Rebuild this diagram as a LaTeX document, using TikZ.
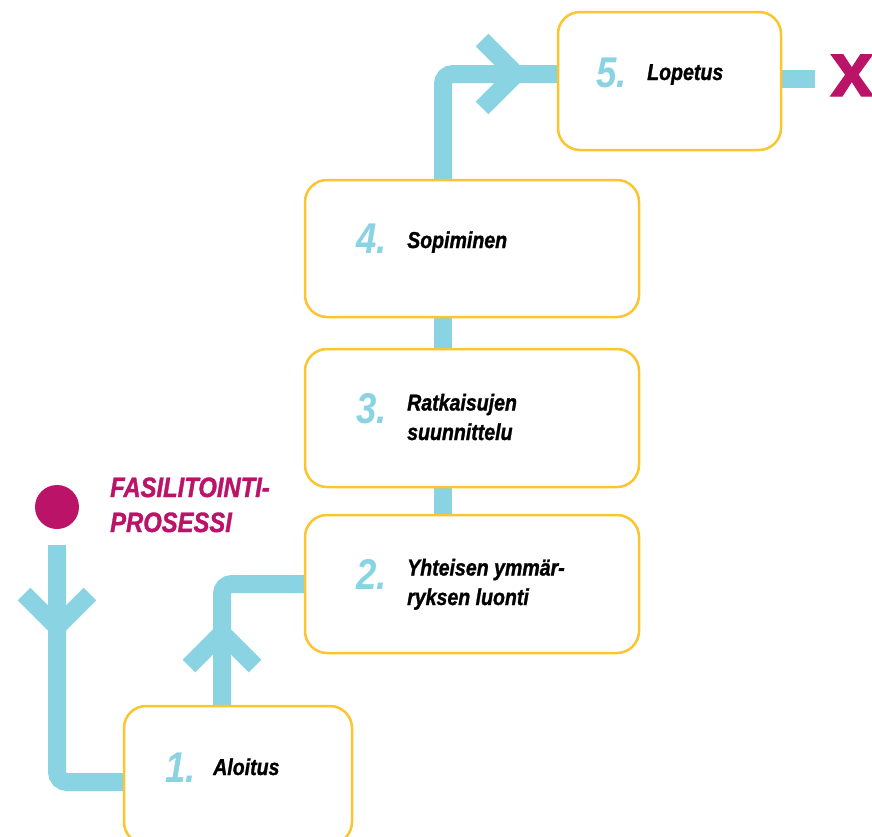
\documentclass[tikz,border=0pt]{standalone}
\usepackage{fontspec}
\setmainfont{Liberation Sans}
\newfontfamily\condfont[FakeStretch=0.85]{Liberation Sans}
\newfontfamily\heavyfont[FakeStretch=0.85,FakeBold=1.2]{Liberation Sans}
\newfontfamily\markfont[FakeBold=1.5]{Liberation Sans}
\usetikzlibrary{backgrounds}
\definecolor{flowcyan}{HTML}{89D3E2}
\definecolor{boxyellow}{HTML}{FBC52F}
\definecolor{magentax}{HTML}{BA1368}
\begin{document}
\begin{tikzpicture}[x=1pt,y=-1pt,
  stepbox/.style={draw=boxyellow, line width=2.5pt, rounded corners=22pt, fill=white, inner sep=0pt},
  flow/.style={draw=flowcyan, line width=18pt},
  chev/.style={draw=flowcyan, line width=18pt, line join=miter},
  num/.style={anchor=base west, inner sep=0pt, text=flowcyan, font=\condfont\bfseries\itshape\fontsize{43}{43}\selectfont},
  lab/.style={anchor=base west, inner sep=0pt, align=left, font=\heavyfont\bfseries\itshape\fontsize{23}{29.5}\selectfont},
  title/.style={anchor=base west, inner sep=0pt, align=left, text=magentax, font=\heavyfont\bfseries\itshape\fontsize{28}{35}\selectfont}]
\useasboundingbox (0,0) rectangle (872,836);
\clip (0,0) rectangle (872,836);

% boxes
\node[stepbox, minimum width=223pt, minimum height=138pt] (b5) at (669.5,81) {};
\node[stepbox, minimum width=334pt, minimum height=137pt] (b4) at (472,248.5) {};
\node[stepbox, minimum width=334pt, minimum height=138pt] (b3) at (472,418) {};
\node[stepbox, minimum width=334pt, minimum height=138pt] (b2) at (472,584) {};
\node[stepbox, minimum width=228pt, minimum height=138pt] (b1) at (238,775) {};

% start dot
\node[circle, fill=magentax, minimum size=44pt, inner sep=0pt] (dot) at (57,507) {};
\coordinate (endpt) at (815,79);

\begin{scope}[on background layer]
\draw[flow, rounded corners=10pt] ([yshift=-16pt]dot.south) |- ([yshift=-7pt]b1.west);
\draw[flow, rounded corners=10pt] ([xshift=-16pt]b1.north) |- (b2.west);
\draw[flow] ([xshift=-29pt]b2.north) -- ([xshift=-29pt]b3.south);
\draw[flow] ([xshift=-29pt]b3.north) -- ([xshift=-29pt]b4.south);
\draw[flow, rounded corners=10pt] ([xshift=-29pt]b4.north) |- ([yshift=7pt]b5.west);
\draw[flow] ([yshift=2pt]b5.east) -- (endpt);
% chevrons
\draw[chev] (24,594) -- (57,627) -- (90,594);
\draw[chev] (189,666) -- (222,633) -- (255,666);
\draw[chev] (482,40) -- (516,74) -- (482,108);
\end{scope}

% end mark
\node[anchor=base west, inner sep=0pt, text=magentax, font=\markfont\bfseries\fontsize{78}{78}\selectfont] (ex) at (830,96) {x};

% title (base = last line)
\node[title] (ttl) at (110,532) {FASILITOINTI-\\PROSESSI};

% labels
\node[num] (n5) at (596,87) {5.};
\node[lab] (l5) at (647,80) {Lopetus};
\node[num] (n4) at (356,253) {4.};
\node[lab] (l4) at (407,248) {Sopiminen};
\node[num] (n3) at (356,423) {3.};
\node[lab] (l3) at (407,440) {Ratkaisujen\\suunnittelu};
\node[num] (n2) at (356,589) {2.};
\node[lab] (l2) at (407,605) {Yhteisen ymmär-\\ryksen luonti};
\node[num] (n1) at (165,782) {1.};
\node[lab] (l1) at (213,775) {Aloitus};
\end{tikzpicture}
\end{document}
